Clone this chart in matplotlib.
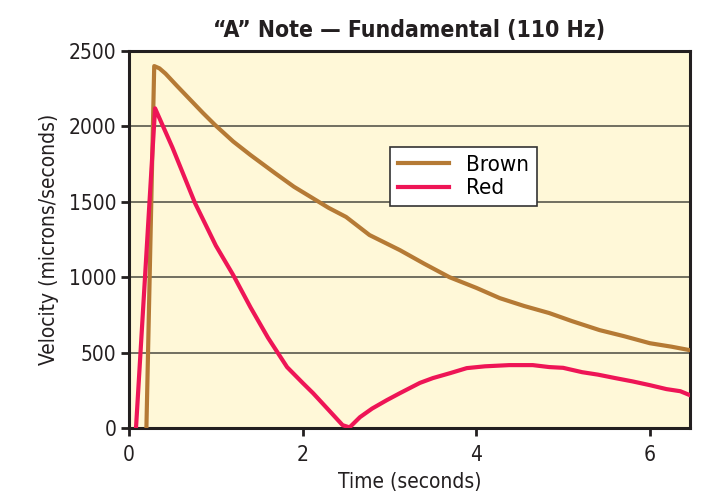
import numpy as np
import matplotlib.pyplot as plt

plt.rcParams['font.family'] = ['DejaVu Sans']
plt.rcParams['font.stretch'] = 'condensed'

# brown string, velocity vs time
brown_t = [0.20, 0.29, 0.35, 0.42, 0.55, 0.70, 0.85, 0.99, 1.20, 1.40, 1.68, 1.90,
           2.10, 2.30, 2.50, 2.77, 3.12, 3.40, 3.69, 4.00, 4.27, 4.55, 4.84, 5.10,
           5.42, 5.70, 6.00, 6.25, 6.46]
brown_v = [0, 2400, 2385, 2350, 2270, 2180, 2090, 2010, 1900, 1810, 1691, 1600,
           1530, 1460, 1400, 1280, 1180, 1090, 1001, 930, 862, 810, 763, 710,
           650, 610, 563, 540, 517]

# red string
red_t = [0.08, 0.30, 0.50, 0.76, 1.00, 1.20, 1.40, 1.60, 1.82, 2.00, 2.12, 2.30,
         2.46, 2.54, 2.66, 2.80, 2.97, 3.12, 3.35, 3.50, 3.70, 3.89, 4.10, 4.38,
         4.65, 4.84, 5.00, 5.22, 5.40, 5.60, 5.80, 6.00, 6.19, 6.35, 6.46]
red_v = [0, 2120, 1860, 1492, 1210, 1015, 800, 600, 405, 300, 232, 120,
         20, 5, 73, 130, 186, 232, 300, 332, 365, 398, 410, 418,
         418, 405, 400, 371, 355, 332, 310, 285, 259, 245, 219]

fig = plt.figure(figsize=(7.09, 4.95), dpi=100)
ax = fig.add_axes([0.182, 0.135, 0.791, 0.762])
ax.set_facecolor('#FFF8D8')

for y in [500, 1000, 1500, 2000]:
    ax.axhline(y, color='#4a4a40', lw=1.1, zorder=1)

ax.plot(brown_t, brown_v, color='#B57A35', lw=3, label='Brown', zorder=3,
        solid_joinstyle='round')
ax.plot(red_t, red_v, color='#EE1556', lw=3, label='Red', zorder=4,
        solid_joinstyle='round')

ax.set_xlim(0, 6.46)
ax.set_ylim(0, 2500)
ax.set_xticks([0, 2, 4, 6])
ax.set_yticks([0, 500, 1000, 1500, 2000, 2500])
ax.tick_params(direction='out', length=6, width=2, color='#231f20',
               labelsize=15, labelcolor='#231f20', pad=3)
ax.tick_params(axis='x', pad=6)
for s in ax.spines.values():
    s.set_linewidth(2.2)
    s.set_color('#231f20')

ax.set_xlabel('Time (seconds)', fontsize=15, color='#231f20', labelpad=5)
ax.set_ylabel('Velocity (microns/seconds)', fontsize=15, color='#231f20', labelpad=7)
ax.set_title('\u201cA\u201d Note \u2014 Fundamental (110 Hz)', fontsize=16.5,
             fontweight='bold', color='#231f20', pad=10)

leg = ax.legend(loc='upper left', bbox_to_anchor=(0.465, 0.745), fontsize=16,
                frameon=True, fancybox=False, handlelength=2.3, borderpad=0.35,
                labelspacing=0.15, handletextpad=0.8, borderaxespad=0)
leg.get_frame().set_edgecolor('#333333')
leg.get_frame().set_linewidth(1.2)
leg.get_frame().set_facecolor('white')
leg.get_frame().set_alpha(1)

plt.savefig('out.png', dpi=100)
